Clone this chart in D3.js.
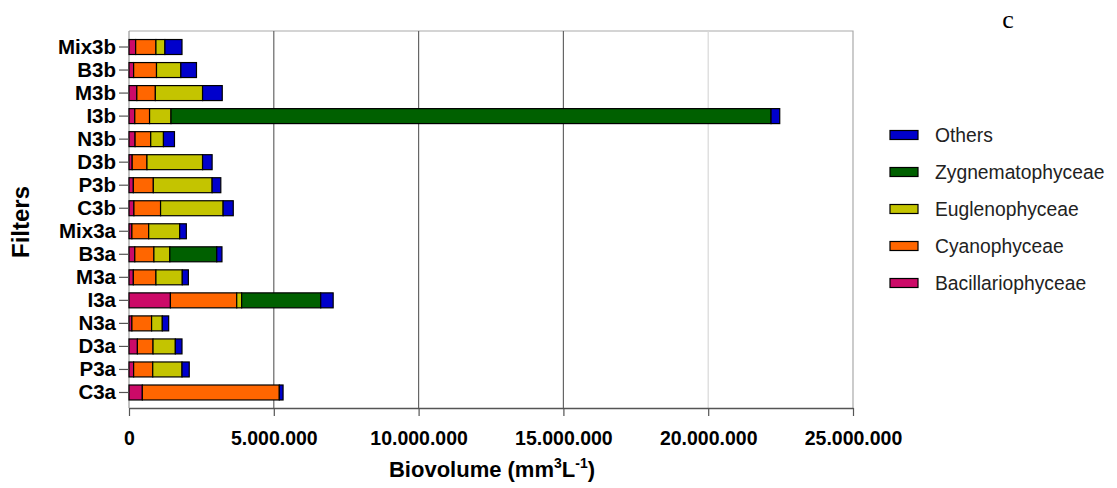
<!DOCTYPE html>
<html>
<head>
<meta charset="utf-8">
<script src="https://cdn.jsdelivr.net/npm/d3@7"></script>
<style>
  body { margin: 0; background: #fff; }
  text { font-family: Arial, "Liberation Sans", sans-serif; }
</style>
</head>
<body>
<svg></svg>
<script>
const width = 1117;
const height = 488;

// filters, bottom to top as drawn
const filters = ['C3a', 'P3a', 'D3a', 'N3a', 'I3a', 'M3a', 'B3a', 'Mix3a',
                 'C3b', 'P3b', 'D3b', 'N3b', 'I3b', 'M3b', 'B3b', 'Mix3b'];

// biovolume per group (mm3 L-1), same order as filters
const bacillariophyceae = [460000, 160000, 290000, 100000, 1430000, 150000, 200000, 100000,
                           170000, 150000, 110000, 210000, 200000, 270000, 160000, 230000];
const cyanophyceae = [4730000, 660000, 540000, 680000, 2290000, 780000, 660000, 580000,
                      920000, 690000, 510000, 540000, 510000, 640000, 790000, 700000];
const euglenophyceae = [0, 1010000, 770000, 370000, 170000, 910000, 550000, 1070000,
                        2160000, 2030000, 1920000, 440000, 740000, 1630000, 840000, 310000];
const zygnematophyceae = [0, 0, 0, 0, 2730000, 0, 1620000, 0,
                          0, 0, 0, 0, 20720000, 0, 0, 0];
const others = [130000, 250000, 230000, 220000, 430000, 210000, 180000, 230000,
                350000, 300000, 330000, 380000, 300000, 680000, 540000, 590000];

const groups = ['Bacillariophyceae', 'Cyanophyceae', 'Euglenophyceae', 'Zygnematophyceae', 'Others'];
const colors = ['#cc0a68', '#ff6600', '#c4c400', '#006000', '#0000cc'];
const xTicks = [0, 5000000, 10000000, 15000000, 20000000, 25000000];

// table for d3.stack
const rows = filters.map((f, i) => ({
  filter: f,
  Bacillariophyceae: bacillariophyceae[i],
  Cyanophyceae: cyanophyceae[i],
  Euglenophyceae: euglenophyceae[i],
  Zygnematophyceae: zygnematophyceae[i],
  Others: others[i]
}));

const svg = d3.select('svg')
  .attr('width', width)
  .attr('height', height);

const plotLeft = 129, plotRight = 853, plotTop = 31, plotBottom = 408;

const x = d3.scaleLinear().domain([0, 25000000]).range([plotLeft, plotRight]);
const y = d3.scaleBand()
  .domain(filters.slice().reverse())
  .range([35.5, 404])
  .paddingInner(0.35)
  .paddingOuter(0.175);

const color = d3.scaleOrdinal().domain(groups).range(colors);

// plot frame: top and right in light grey
svg.append('path')
  .attr('d', `M${plotLeft},${plotTop}H${plotRight}V${plotBottom}`)
  .attr('fill', 'none')
  .attr('stroke', '#aaa')
  .attr('stroke-width', 1.2);

// vertical grid lines (20M one is lighter in the original)
svg.append('g')
  .selectAll('line')
  .data(xTicks.slice(1, -1))
  .join('line')
    .attr('x1', d => x(d)).attr('x2', d => x(d))
    .attr('y1', plotTop).attr('y2', plotBottom)
    .attr('stroke', d => d === 20000000 ? '#d8d8d8' : '#666')
    .attr('stroke-width', 1.2);

// left axis line
svg.append('line')
  .attr('x1', plotLeft).attr('x2', plotLeft)
  .attr('y1', plotTop).attr('y2', plotBottom)
  .attr('stroke', '#999')
  .attr('stroke-width', 1.2);

// stacked bars
const stacked = d3.stack().keys(groups)(rows);

svg.append('g')
  .selectAll('g')
  .data(stacked)
  .join('g')
    .attr('fill', d => color(d.key))
  .selectAll('rect')
  .data(d => d.filter(s => s[1] - s[0] > 0))
  .join('rect')
    .attr('x', d => x(d[0]))
    .attr('y', d => y(d.data.filter))
    .attr('width', d => x(d[1]) - x(d[0]))
    .attr('height', y.bandwidth())
    .attr('stroke', '#000')
    .attr('stroke-width', 1.2);

// x axis
const dotFormat = d3.formatLocale({ decimal: ',', thousands: '.', grouping: [3], currency: ['', ''] }).format(',');

const xAxis = svg.append('g')
  .attr('transform', `translate(0,${plotBottom})`)
  .call(d3.axisBottom(x).tickValues(xTicks).tickFormat(dotFormat).tickSize(8).tickSizeOuter(0));
xAxis.select('.domain').attr('stroke', '#555').attr('stroke-width', 1.5);
xAxis.selectAll('.tick line').attr('stroke', '#555').attr('stroke-width', 1.2);
xAxis.selectAll('.tick text')
  .attr('dy', '1.35em')
  .attr('fill', '#000')
  .style('font-size', '19.5px')
  .style('font-weight', 'bold');

// y axis
const yAxis = svg.append('g')
  .attr('transform', `translate(${plotLeft},0)`)
  .call(d3.axisLeft(y).tickSize(10).tickPadding(3));
yAxis.select('.domain').remove();
yAxis.selectAll('.tick line').attr('stroke', '#555').attr('stroke-width', 1.2);
yAxis.selectAll('.tick text')
  .attr('fill', '#000')
  .style('font-size', '20.5px')
  .style('font-weight', 'bold');

// axis titles
const xt = svg.append('text')
  .attr('x', 492)
  .attr('y', 477)
  .attr('text-anchor', 'middle')
  .style('font-size', '22px')
  .style('font-weight', 'bold');
xt.append('tspan').text('Biovolume (mm');
xt.append('tspan').attr('dy', -9).style('font-size', '14px').text('3');
xt.append('tspan').attr('dy', 9).text('L');
xt.append('tspan').attr('dy', -9).style('font-size', '14px').text('-1');
xt.append('tspan').attr('dy', 9).text(')');

svg.append('text')
  .attr('transform', 'translate(29,222) rotate(-90)')
  .attr('text-anchor', 'middle')
  .style('font-size', '24px')
  .style('font-weight', 'bold')
  .text('Filters');

// panel letter
svg.append('text')
  .attr('x', 1008)
  .attr('y', 28)
  .attr('text-anchor', 'middle')
  .style('font-family', '"Liberation Serif", "Times New Roman", serif')
  .style('font-size', '26px')
  .text('c');

// legend, top to bottom in reverse stack order
const legend = svg.append('g')
  .selectAll('g')
  .data(groups.slice().reverse())
  .join('g')
    .attr('transform', (d, i) => `translate(890,${135 + i * 37})`);

legend.append('rect')
  .attr('x', 0).attr('y', -4.5)
  .attr('width', 28).attr('height', 9)
  .attr('fill', d => color(d))
  .attr('stroke', '#000')
  .attr('stroke-width', 1.2);

legend.append('text')
  .attr('x', 45)
  .attr('dy', '0.35em')
  .style('font-size', '19.3px')
  .attr('fill', '#222')
  .text(d => d);
</script>
</body>
</html>
